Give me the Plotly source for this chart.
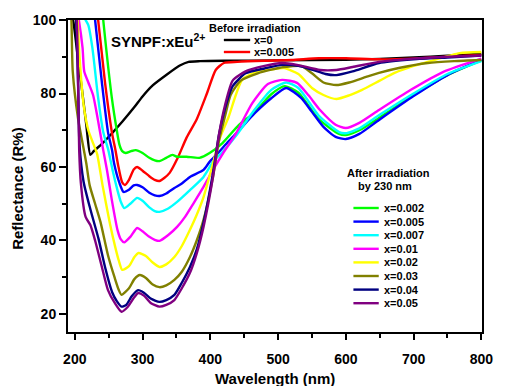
import plotly.graph_objects as go

# ---------------- data ----------------
wl_x0 = [193, 198, 205, 211, 217, 223, 228, 240, 255, 270, 288, 300, 315, 337, 355, 368, 385, 420, 500, 600, 650, 700, 750, 800]
r_x0 = [104, 99.5, 89, 80.5, 71.5, 63.3, 64.3, 66.3, 69.2, 72.3, 76.3, 79.2, 82.2, 85.3, 87.6, 88.6, 88.8, 88.9, 89.0, 89.2, 89.4, 89.8, 90.3, 90.8]

wl_x0005b = [232, 234.5, 244.6, 254.7, 260, 264, 270, 274, 280, 287, 292, 300, 310, 318, 325, 332, 340, 352, 365, 380, 395, 408, 420, 440, 480, 520, 560, 600, 650, 700, 750, 800]
r_x0005b = [103, 100, 83, 69.5, 64.6, 60.5, 55.8, 55.1, 56.5, 59.3, 60, 59, 57.5, 56.5, 56.2, 57, 58.4, 62.5, 68, 73, 80, 86.4, 88.3, 88.6, 88.9, 89.1, 89.6, 89.6, 89.3, 89.5, 90, 90.5]

wl_a0002 = [240, 242, 254.7, 262, 266, 270, 275, 283, 290, 300, 310, 318, 325, 335, 344, 351, 365, 384, 399, 418, 442, 465, 490, 510, 530, 560, 590, 600, 620, 650, 700, 750, 800]
r_a0002 = [104, 100, 78.8, 70, 66, 64.3, 63.8, 64.3, 64.6, 63.8, 62.5, 61.8, 61.6, 62.5, 63.3, 62.8, 62.8, 62.5, 63.8, 66.5, 71.4, 74.8, 79.8, 82, 80.2, 73, 69, 68.7, 70, 73.5, 79.5, 85, 89]

wl_a0005 = [228, 230, 240, 249, 255, 258, 266, 272, 280, 287, 292, 300, 310, 318, 325, 335, 347, 358, 370, 390, 399, 410, 427, 440, 466, 490, 512, 534, 550, 567, 585, 600, 620, 649, 700, 750, 800]
r_a0005 = [103, 100, 83, 69.5, 64.6, 61, 55.6, 53.2, 53.8, 55, 55.1, 54.5, 53, 52.3, 52.1, 52.8, 54.3, 55.5, 57.3, 59.2, 61.4, 63.5, 67, 69.5, 74.7, 78.7, 81.5, 78.8, 75, 70.9, 68.2, 67.6, 69, 72.8, 79.3, 85, 89.2]

wl_a0007 = [214, 216, 220, 226, 234.5, 242, 249.5, 256, 263, 268, 273, 282, 292, 300, 310, 318, 325, 338, 351, 370, 390, 404, 420, 440, 465, 490, 512, 530, 560, 590, 600, 620, 650, 700, 750, 800]
r_a0007 = [101, 100, 98.6, 92.4, 78.8, 69.5, 64.6, 59, 53.7, 50.5, 48.8, 50, 51.6, 50.8, 49, 48, 47.8, 48.7, 50.5, 53.7, 57.3, 61.4, 64.5, 69, 75.5, 81, 83, 81.5, 74, 69.5, 69.2, 70.5, 74.2, 80, 85.3, 88.8]

wl_a001 = [203, 206, 211.5, 214, 220, 227, 233, 242, 247.5, 254.7, 263, 268, 273, 282, 292, 300, 310, 318, 325, 338, 351, 363, 375.5, 390, 404, 419, 437, 462, 485, 506, 528, 545, 562, 585, 600, 620, 649, 696, 744, 800]
r_a001 = [103, 100, 92.4, 86, 83, 79.6, 74, 64.6, 59.2, 51, 42.9, 40.3, 39.5, 41, 43.4, 42.5, 41, 40.2, 39.9, 41.5, 43.7, 46.5, 50.2, 54.6, 59.2, 63.8, 68.8, 77.4, 82.6, 83.7, 82.9, 79.5, 75.5, 71.5, 70.6, 72, 75.5, 81, 85.9, 89.5]

wl_a002 = [201, 204, 207, 213, 220, 227, 233, 241, 252, 260, 265, 270, 280, 288, 294, 305, 315, 325, 335, 347, 358, 370, 380, 390, 404, 413, 427, 447, 470, 490, 509, 530, 550, 567, 586, 605, 624, 650, 672, 700, 721, 768, 800]
r_a002 = [104, 100, 90, 77, 70, 66.5, 63.5, 55, 44.5, 38, 34.5, 32, 33, 35.5, 36.6, 35.8, 34, 32.8, 33.5, 35.5, 38.5, 42.9, 47, 51.8, 61, 67.3, 73.6, 83.7, 86, 86.5, 86.9, 85.3, 81.5, 79.6, 78.5, 79.5, 81, 83.5, 85.6, 87.5, 88.6, 91, 91.3]

wl_a003 = [193, 195, 197, 205, 212, 217, 222, 230, 238, 249, 259, 265, 269, 280, 288, 296, 305, 315, 325, 335, 347, 358, 370, 380, 390, 404, 413, 422, 430, 445, 470, 490, 509, 534, 550, 567, 586, 605, 630, 649, 680, 721, 760, 800]
r_a003 = [104, 100, 86, 73, 66, 61, 55, 50, 45, 36, 29.8, 26.5, 25.2, 27, 29.5, 30.6, 29.8, 28, 27.3, 27.8, 29.3, 31.5, 35.5, 40, 45.6, 57.3, 67.3, 74, 79.6, 83.5, 85.5, 86.5, 87.2, 87.5, 85.5, 83, 82.3, 83, 84.5, 85.6, 87, 88.3, 88.8, 89.1]

wl_a004 = [201, 202, 205, 207, 213, 223, 235, 245, 255, 262, 269, 276, 284, 293.5, 302, 312, 325, 335, 347, 358, 370, 380, 390, 404, 413, 425, 433, 452, 480, 506, 530, 550, 570, 586, 610, 649, 700, 750, 800]
r_a004 = [104, 100, 82, 66, 56, 48.5, 40.5, 32.5, 26, 23.5, 22, 22.5, 24.8, 26.5, 25.8, 24.2, 23.3, 23.8, 25.2, 28.5, 32.8, 37.5, 44.8, 58.4, 69, 78, 82, 85.5, 86.8, 87.8, 87.5, 86.5, 85.3, 85, 86, 88.3, 89.3, 89.8, 90.3]

wl_a005 = [201, 203, 205, 206.5, 209, 216, 223, 230, 240, 249, 259, 269, 278, 288, 293.5, 302, 312, 325, 335, 347, 358, 370, 380, 390, 404, 413, 422, 433, 452, 480, 506, 528, 562, 586, 610, 649, 700, 750, 800]
r_a005 = [104, 100, 82, 64.6, 55.6, 46.4, 44.2, 40, 32.8, 26.5, 23, 20.6, 21.9, 24.6, 25.7, 25, 23, 22, 22.5, 23.8, 27, 31.2, 36.5, 43.7, 57.3, 69, 77, 83.5, 86, 87.5, 88.3, 87.8, 86.4, 86.4, 87.2, 88.6, 89.5, 90, 90.3]

before_names = ["x=0", "x=0.005"]
before_colors = ["#000000", "#ff0000"]
before_wl = [wl_x0, wl_x0005b]
before_r = [r_x0, r_x0005b]

after_names = ["x=0.002", "x=0.005", "x=0.007", "x=0.01", "x=0.02", "x=0.03", "x=0.04", "x=0.05"]
after_colors = ["#00ff00", "#0000ff", "#00ffff", "#ff00ff", "#ffff00", "#808000", "#000080", "#800080"]
after_wl = [wl_a0002, wl_a0005, wl_a0007, wl_a001, wl_a002, wl_a003, wl_a004, wl_a005]
after_r = [r_a0002, r_a0005, r_a0007, r_a001, r_a002, r_a003, r_a004, r_a005]

x_ticks = [200, 300, 400, 500, 600, 700, 800]
y_ticks = [20, 40, 60, 80, 100]

# ---------------- layout constants ----------------
W, H = 505, 386
ML, MR, MT, MB = 68, 12, 20, 54
PW, PH = W - ML - MR, H - MT - MB
FONT = "Liberation Sans, Arial, sans-serif"


def px(x):
    return (x - ML) / PW


def py(y):
    return (H - MB - y) / PH


fig = go.Figure()
for names, cols, wls, rs in [(before_names, before_colors, before_wl, before_r),
                             (after_names, after_colors, after_wl, after_r)]:
    for n, c, w, r in zip(names, cols, wls, rs):
        fig.add_trace(go.Scatter(x=w, y=r, mode="lines", name=n, showlegend=False,
                                 line=dict(color=c, width=2.4, shape="spline", smoothing=0.6)))

shapes = []
ann = []
# Before irradiation legend
ann.append(dict(x=px(260), y=py(28), text="Before irradiation", xanchor="center", yanchor="middle"))
for i, (n, c) in enumerate(zip(before_names, before_colors)):
    yy = 40 + i * 12
    shapes.append(dict(type="line", xref="paper", yref="paper", x0=px(228), x1=px(255),
                       y0=py(yy), y1=py(yy), line=dict(color=c, width=2.4)))
    ann.append(dict(x=px(257), y=py(yy), text=n, xanchor="left", yanchor="middle"))
# After irradiation legend
ann.append(dict(x=px(397), y=py(173), text="After irradiation", xanchor="center", yanchor="middle"))
ann.append(dict(x=px(393), y=py(186), text="by 230 nm", xanchor="center", yanchor="middle"))
for i, (n, c) in enumerate(zip(after_names, after_colors)):
    yy = 208 + i * 13.6
    shapes.append(dict(type="line", xref="paper", yref="paper", x0=px(361), x1=px(387),
                       y0=py(yy), y1=py(yy), line=dict(color=c, width=2.4)))
    ann.append(dict(x=px(390), y=py(yy), text=n, xanchor="left", yanchor="middle"))
for a in ann:
    a.update(xref="paper", yref="paper", showarrow=False,
             font=dict(family=FONT, size=11, color="#000", weight="bold"))
ann.append(dict(x=px(110), y=py(41), xref="paper", yref="paper", showarrow=False,
                text="SYNPF:xEu<sup>2+</sup>", xanchor="left", yanchor="middle",
                font=dict(family=FONT, size=15, color="#000", weight="bold")))
ann.append(dict(x=px(15.5), y=py(188), xref="paper", yref="paper", showarrow=False,
                text="Reflectance (R%)", textangle=-90, xanchor="center", yanchor="middle",
                font=dict(family=FONT, size=15, color="#000", weight="bold")))
ann.append(dict(x=px(280.5), y=py(378), xref="paper", yref="paper", showarrow=False,
                text="Wavelength (nm)", xanchor="center", yanchor="middle",
                font=dict(family=FONT, size=15, color="#000", weight="bold")))

fig.update_layout(
    width=W, height=H, margin=dict(l=ML, r=MR, t=MT, b=MB),
    paper_bgcolor="white", plot_bgcolor="white",
    font=dict(family=FONT, size=14, color="#000", weight="bold"),
    shapes=shapes, annotations=ann,
    xaxis=dict(range=[190, 801], tickvals=x_ticks, ticks="outside", ticklen=6, tickwidth=2,
               tickcolor="#000", showline=True, linecolor="#000", linewidth=2, mirror=True,
               showgrid=False, zeroline=False, ticklabelstandoff=7,
               minor=dict(dtick=50, tick0=0, ticks="outside", ticklen=4, tickwidth=2, tickcolor="#000"),
               tickfont=dict(family=FONT, size=14, weight="bold")),
    yaxis=dict(range=[15.1, 100], tickvals=y_ticks, ticks="outside", ticklen=7, tickwidth=2,
               tickcolor="#000", showline=True, linecolor="#000", linewidth=2, mirror=True,
               showgrid=False, zeroline=False,
               minor=dict(dtick=10, tick0=0, ticks="outside", ticklen=4, tickwidth=2, tickcolor="#000"),
               tickfont=dict(family=FONT, size=14, weight="bold")),
)
fig.write_html("out.html")
